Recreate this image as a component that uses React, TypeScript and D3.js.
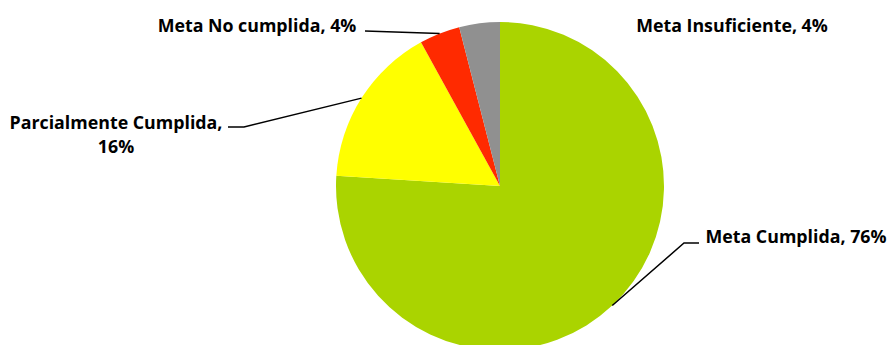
import React from "react";
import * as d3 from "d3";

const categories = ["Meta Cumplida", "Parcialmente Cumplida", "Meta No cumplida", "Meta Insuficiente"];
const values = [76, 16, 4, 4];
const colors = ["#AAD400", "#FFFF00", "#FF2A00", "#909090"];

const W = 892;
const H = 345;
const cx = 500;
const cy = 186;
const R = 164;

// label layout: [centerX, baselineY, lines, leader points (from label side)]
const labelLayout = [
  { x: 796, y: 243, lines: ["Meta Cumplida, 76%"], leader: [[699, 243], [684, 243]] },
  { x: 116, y: 129, lines: ["Parcialmente Cumplida,", "16%"], leader: [[228, 127], [244, 127]] },
  { x: 257, y: 32, lines: ["Meta No cumplida, 4%"], leader: [[365, 31]] },
  { x: 732, y: 32, lines: ["Meta Insuficiente, 4%"], leader: null as null | number[][] },
];

export default function App() {
  const pie = d3.pie<number>().sort(null).value((d) => d);
  const arcs = pie(values);
  const arc = d3.arc<d3.PieArcDatum<number>>().innerRadius(0).outerRadius(R);
  return (
    <svg width={W} height={H} style={{ position: "absolute", left: 0, top: 0, display: "block" }}>
      <rect width={W} height={H} fill="#fff" />
      <g transform={`translate(${cx},${cy})`}>
        {arcs.map((a, i) => (
          <path key={i} d={arc(a) || ""} fill={colors[i]} />
        ))}
      </g>
      {arcs.map((a, i) => {
        const L = labelLayout[i];
        if (!L.leader) return null;
        const mid = (a.startAngle + a.endAngle) / 2;
        const ex = cx + R * Math.sin(mid);
        const ey = cy - R * Math.cos(mid);
        const pts = [...L.leader, [ex, ey]];
        return (
          <path
            key={"l" + i}
            d={d3.line()(pts as [number, number][]) || ""}
            fill="none"
            stroke="#000"
            strokeWidth={1.5}
          />
        );
      })}
      {labelLayout.map((L, i) => (
        <text
          key={"t" + i}
          x={L.x}
          y={L.y}
          textAnchor="middle"
          fontFamily="'Open Sans', sans-serif"
          fontWeight="bold"
          fontSize={17.8}
          fill="#000"
        >
          {L.lines.map((ln, j) => (
            <tspan key={j} x={L.x} dy={j === 0 ? 0 : 24}>
              {ln}
            </tspan>
          ))}
        </text>
      ))}
    </svg>
  );
}
